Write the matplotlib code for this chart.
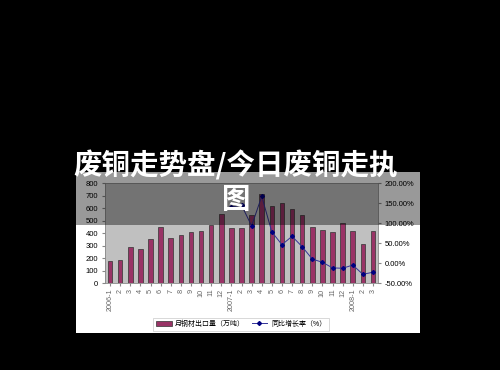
import matplotlib
matplotlib.use('Agg')
import matplotlib.pyplot as plt
from matplotlib.patches import Rectangle, Patch
from matplotlib.lines import Line2D
from matplotlib.ticker import FuncFormatter

plt.rcParams['font.family'] = ['Liberation Sans', 'Noto Sans CJK SC']

# month labels 2006-1 .. 2008-3
labels = ['2006-1'] + [str(m) for m in range(2, 13)] + ['2007-1'] + [str(m) for m in range(2, 13)] + ['2008-1', '2', '3']

# monthly steel export volume (10k tons)
export = [180, 185, 285, 270, 350, 445, 360, 385, 410, 420, 465, 555,
          440, 440, 545, 710, 620, 640, 595, 545, 445, 425, 410, 480, 415, 310, 420]

# year-on-year growth (%), starts 2007-1
growth = [140, 145, 93, 167, 78, 46, 67, 41, 10, 2, -12, -13, -5, -28, -23]
growth_idx = list(range(12, 27))

fig = plt.figure(figsize=(5, 3.7), dpi=100, facecolor='black')

# white chart background
fig.patches.append(Rectangle((0.152, 0.1), 0.688, 0.435, transform=fig.transFigure,
                             facecolor='white', edgecolor='none', zorder=-1))

ax = fig.add_axes([0.21, 0.235, 0.546, 0.270])
ax.set_zorder(1)
ax.set_facecolor('#c0c0c0')
x = list(range(len(export)))
ax.bar(x, export, width=0.45, color='#993366', edgecolor='#333333', linewidth=0.5, zorder=2)
ax.set_xlim(-0.5, len(export) - 0.5)
ax.set_ylim(0, 800)
ax.set_yticks(range(0, 801, 100))
ax.set_xticks(x)
ax.set_xticklabels(labels, rotation=90, fontsize=5.2, color='#666666')
ax.tick_params(axis='y', labelsize=5.5, length=2, color='#888888', pad=3)
ax.tick_params(axis='x', length=2, color='#888888', pad=2)
for s in ax.spines.values():
    s.set_color('#888888')
    s.set_linewidth(0.6)

ax2 = ax.twinx()
ax2.set_zorder(2)
ax2.patch.set_visible(False)
ax2.plot(growth_idx, growth, color='#333399', linewidth=0.7, marker='D',
         markersize=2, markerfacecolor='#000080', markeredgecolor='#000080', zorder=3)
ax2.set_ylim(-50, 200)
ax2.set_yticks(range(-50, 201, 50))
ax2.yaxis.set_major_formatter(FuncFormatter(lambda v, p: '%.2f%%' % v))
ax2.tick_params(axis='y', labelsize=5.5, length=2, color='#888888', pad=3)
for s in ax2.spines.values():
    s.set_visible(False)

handles = [Patch(facecolor='#993366', edgecolor='#333333', linewidth=0.5),
           Line2D([0], [0], color='#333399', linewidth=0.7, marker='D', markersize=2,
                  markerfacecolor='#000080', markeredgecolor='#000080')]
leg = fig.legend(handles, ['月钢材出口量（万吨）', '同比增长率（%）'], loc='center',
                 bbox_to_anchor=(0.482, 0.124), ncol=2, fontsize=5, frameon=True,
                 fancybox=False, edgecolor='#bbbbbb', handlelength=2.3, handletextpad=0.5,
                 columnspacing=0.9, borderpad=0.4)
leg.get_frame().set_linewidth(0.5)
leg.set_zorder(5)

# dark overlay on top part
fig.patches.append(Rectangle((0, 0.392), 1, 0.608, transform=fig.transFigure,
                             facecolor='black', alpha=0.4, edgecolor='none', zorder=10))

fig.text(0.472, 0.553, '废铜走势盘/今日废铜走执', color='white', fontsize=20.5, fontweight='black',
         family=['Noto Sans CJK SC', 'DejaVu Sans'], ha='center', va='center', zorder=11)
fig.text(0.472, 0.46, '图', color='white', fontsize=20.5, fontweight='black',
         family=['Noto Sans CJK SC', 'DejaVu Sans'], ha='center', va='center', zorder=11)

fig.savefig('out.png', dpi=100, facecolor='black')
